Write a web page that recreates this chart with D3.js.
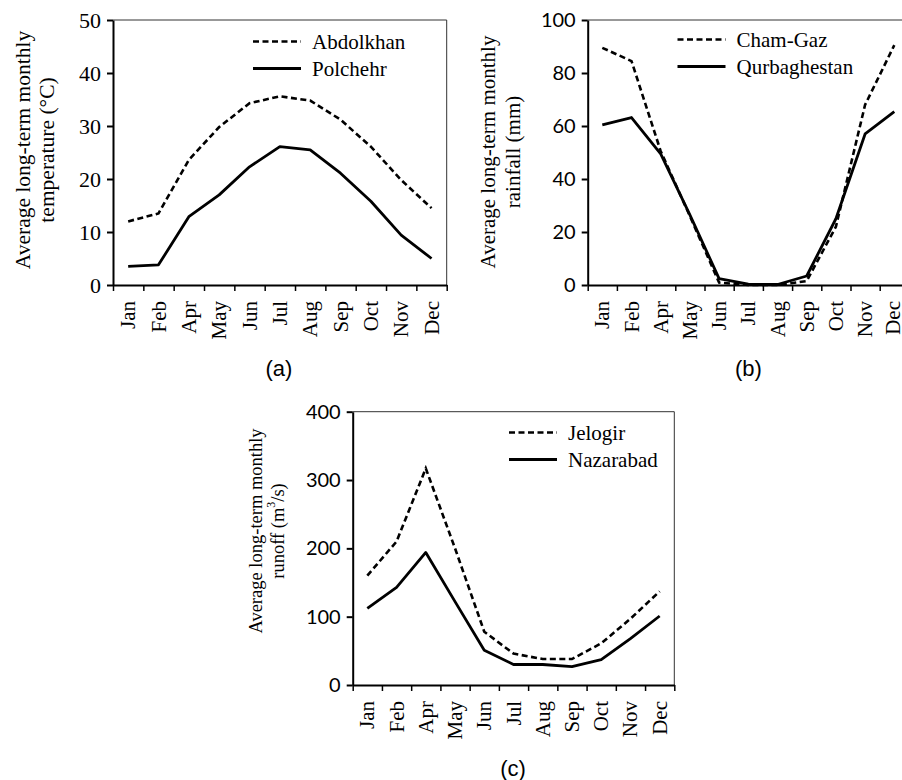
<!DOCTYPE html>
<html>
<head>
<meta charset="utf-8">
<script src="https://cdn.jsdelivr.net/npm/d3@7/dist/d3.min.js"></script>
<style>
  html, body { margin: 0; padding: 0; background: #fff; }
  svg { display: block; }
</style>
</head>
<body>
<svg id="chart" width="902" height="780"></svg>
<script>
// ---- Data ----
const months = ["Jan","Feb","Apr","May","Jun","Jul","Aug","Sep","Oct","Nov","Dec"];

const tempAbdolkhan = [12.0, 13.5, 23.6, 29.8, 34.3, 35.6, 34.8, 31.2, 26.1, 19.8, 14.5];
const tempPolchehr  = [3.5, 3.8, 12.9, 17.0, 22.3, 26.1, 25.5, 21.1, 15.8, 9.4, 5.0];

const rainChamGaz      = [89.5, 84.5, 50.5, 26.0, 0.9, 0.0, 0.0, 1.5, 22.0, 68.0, 90.5];
const rainQurbaghestan = [60.4, 63.2, 49.5, 26.5, 2.4, 0.3, 0.2, 3.4, 25.0, 57.0, 65.4];

const runoffJelogir   = [160, 210, 317, 200, 78, 46, 38, 38, 61, 97, 137];
const runoffNazarabad = [112, 143, 194, 122, 51, 30, 30, 27, 37, 68, 101];

const ticksA = [0, 10, 20, 30, 40, 50];
const ticksB = [0, 20, 40, 60, 80, 100];
const ticksC = [0, 100, 200, 300, 400];

// ---- Drawing ----
const svg = d3.select("#chart");
const SERIF = "'Liberation Serif', 'Times New Roman', serif";
const SANS_TICK = "Lato, 'Open Sans', sans-serif";
const SANS_LBL = "'Liberation Sans', Arial, sans-serif";

function panel(cfg) {
  const g = svg.append("g");
  const x = d3.scaleBand().domain(months).range([cfg.x0, cfg.x1]).paddingInner(0).paddingOuter(0);
  const xe = d3.scaleLinear().domain([0, months.length]).range([cfg.x0, cfg.x1]);
  const y = d3.scaleLinear().domain([0, cfg.ymax]).range([cfg.yBot, cfg.yTop]);

  // frame top and right (thin)
  g.append("line").attr("x1", cfg.x0).attr("x2", cfg.x1).attr("y1", cfg.yTop).attr("y2", cfg.yTop)
    .attr("stroke", "#333").attr("stroke-width", 1);
  g.append("line").attr("x1", cfg.x1).attr("x2", cfg.x1).attr("y1", cfg.yTop).attr("y2", cfg.yBot)
    .attr("stroke", "#333").attr("stroke-width", 1);

  // y axis
  const ya = g.append("g").attr("transform", `translate(${cfg.x0},0)`)
    .call(d3.axisLeft(y).tickValues(cfg.ticks).tickSize(6).tickSizeOuter(0).tickPadding(6));
  ya.attr("font-family", null).attr("font-size", null);
  ya.select(".domain").attr("stroke", "#000").attr("stroke-width", 2);
  ya.selectAll(".tick line").attr("stroke", "#000").attr("stroke-width", 2);
  ya.selectAll(".tick text").style("font-family", cfg.yFont).style("font-size", cfg.yFontSize + "px").attr("fill", "#000");

  // x axis (ticks at band edges)
  const xa = g.append("g").attr("transform", `translate(0,${cfg.yBot})`)
    .call(d3.axisBottom(xe).tickValues(d3.range(months.length + 1)).tickSize(6).tickSizeOuter(0).tickFormat(""));
  xa.select(".domain").attr("stroke", "#000").attr("stroke-width", 2);
  xa.selectAll(".tick line").attr("stroke", "#000").attr("stroke-width", 1.5);

  // month labels
  g.append("g").selectAll("text").data(months).join("text")
    .attr("transform", d => `translate(${Math.min(x(d) + x.bandwidth() / 2, 893)},${cfg.yBot + 16}) rotate(-90)`)
    .attr("text-anchor", "end").attr("dominant-baseline", "central")
    .style("font-family", SERIF).style("font-size", "21px").attr("fill", "#000")
    .text(d => d);

  // lines
  const line = d3.line().x((d, i) => x(months[i]) + x.bandwidth() / 2).y(d => y(d));
  g.append("path").datum(cfg.s1).attr("d", line).attr("fill", "none")
    .attr("stroke", "#000").attr("stroke-width", 2.6).attr("stroke-dasharray", "6,3.5");
  g.append("path").datum(cfg.s2).attr("d", line).attr("fill", "none")
    .attr("stroke", "#000").attr("stroke-width", 2.8).attr("stroke-linejoin", "round");

  // legend
  const lg = g.append("g");
  lg.append("line").attr("x1", cfg.lx).attr("x2", cfg.lx + 48).attr("y1", cfg.ly).attr("y2", cfg.ly)
    .attr("stroke", "#000").attr("stroke-width", 2.6).attr("stroke-dasharray", "6,3.5");
  lg.append("line").attr("x1", cfg.lx).attr("x2", cfg.lx + 48).attr("y1", cfg.ly + 27).attr("y2", cfg.ly + 27)
    .attr("stroke", "#000").attr("stroke-width", 2.8);
  lg.selectAll("text").data(cfg.names).join("text")
    .attr("x", cfg.lx + 59).attr("y", (d, i) => cfg.ly + i * 27)
    .attr("dominant-baseline", "central")
    .style("font-family", SERIF).style("font-size", "21px").attr("fill", "#000")
    .text(d => d);

  // y title (two lines)
  g.append("text")
    .attr("transform", `translate(${cfg.tx1},${cfg.ty}) rotate(-90)`)
    .attr("text-anchor", "middle").attr("dominant-baseline", "central")
    .style("font-family", SERIF).style("font-size", cfg.tFontSize + "px").attr("fill", "#000")
    .text("Average long-term monthly");
  const t2 = g.append("text")
    .attr("transform", `translate(${cfg.tx2},${cfg.ty}) rotate(-90)`)
    .attr("text-anchor", "middle").attr("dominant-baseline", "central")
    .style("font-family", SERIF).style("font-size", cfg.tFontSize + "px").attr("fill", "#000");
  cfg.title2(t2);

  // panel label
  g.append("text").attr("x", cfg.px).attr("y", cfg.py)
    .attr("text-anchor", "middle").attr("dominant-baseline", "central")
    .style("font-family", SANS_LBL).style("font-size", "22px").attr("fill", "#000")
    .text(cfg.label);
}

panel({
  x0: 113, x1: 446.7, yTop: 20, yBot: 285, ymax: 50, ticks: ticksA,
  yFont: SERIF, yFontSize: 22,
  s1: tempAbdolkhan, s2: tempPolchehr, names: ["Abdolkhan", "Polchehr"],
  lx: 253, ly: 41.5,
  tx1: 23, tx2: 47, ty: 150, tFontSize: 21.5,
  title2: t => t.text("temperature (°C)"),
  px: 279, py: 368, label: "(a)"
});

panel({
  x0: 587.7, x1: 908.9, yTop: 20, yBot: 285, ymax: 100, ticks: ticksB,
  yFont: SANS_TICK, yFontSize: 20,
  s1: rainChamGaz, s2: rainQurbaghestan, names: ["Cham-Gaz", "Qurbaghestan"],
  lx: 677.5, ly: 39.5,
  tx1: 488, tx2: 513, ty: 152, tFontSize: 21,
  title2: t => t.text("rainfall (mm)"),
  px: 748.5, py: 368, label: "(b)"
});

panel({
  x0: 352.7, x1: 674.3, yTop: 411.7, yBot: 685, ymax: 400, ticks: ticksC,
  yFont: SANS_TICK, yFontSize: 20,
  s1: runoffJelogir, s2: runoffNazarabad, names: ["Jelogir", "Nazarabad"],
  lx: 509, ly: 432.5,
  tx1: 256, tx2: 278, ty: 531, tFontSize: 18.5,
  title2: t => {
    t.append("tspan").text("runoff (m");
    t.append("tspan").style("font-size", "12px").attr("dy", -7).text("3");
    t.append("tspan").attr("dy", 7).text("/s)");
  },
  px: 513, py: 768, label: "(c)"
});
</script>
</body>
</html>
